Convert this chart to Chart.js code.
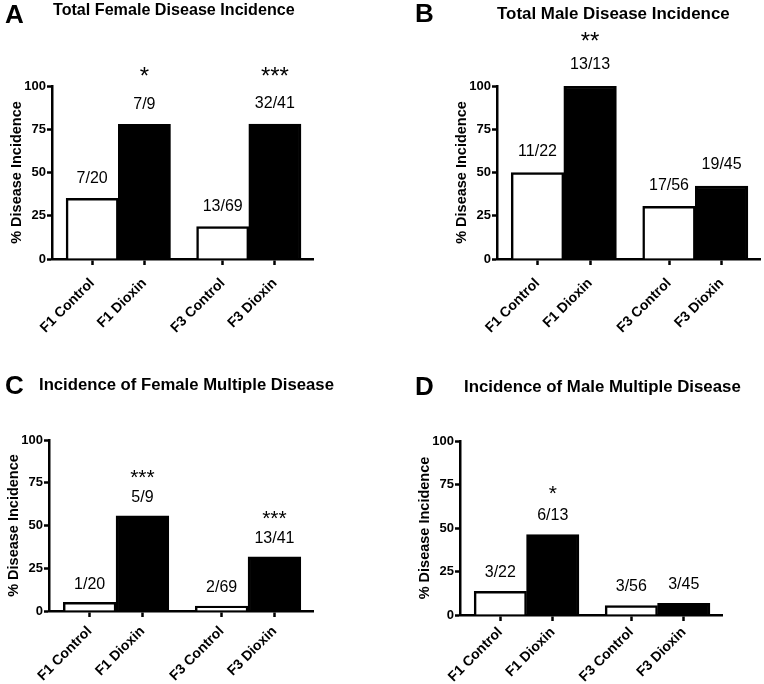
<!DOCTYPE html>
<html>
<head>
<meta charset="utf-8">
<script src="https://cdn.jsdelivr.net/npm/chart.js@4.4.0/dist/chart.umd.min.js"></script>
<style>
  body { margin: 0; background: #fff; }
  #wrap { position: relative; width: 764px; height: 684px; overflow: hidden; }
  #wrap canvas { position: absolute; }
</style>
</head>
<body>
<div id="wrap">
  <canvas id="panelA" width="382" height="342" style="left:0;top:0"></canvas>
  <canvas id="panelB" width="382" height="342" style="left:382px;top:0"></canvas>
  <canvas id="panelC" width="382" height="342" style="left:0;top:342px"></canvas>
  <canvas id="panelD" width="382" height="342" style="left:382px;top:342px"></canvas>
</div>
<script>
// groups shown on every panel
const categories = ["F1 Control", "F1 Dioxin", "F3 Control", "F3 Dioxin"];
const yTicks = [0, 25, 50, 75, 100];

// A - total female disease incidence (%)
const femaleTotal = [35, 77.8, 18.8, 78.0];
const femaleTotalCounts = ["7/20", "7/9", "13/69", "32/41"];
const femaleTotalStars = ["", "*", "", "***"];

// B - total male disease incidence (%)
const maleTotal = [50, 100, 30.4, 42.2];
const maleTotalCounts = ["11/22", "13/13", "17/56", "19/45"];
const maleTotalStars = ["", "**", "", ""];

// C - female multiple disease (%)
const femaleMultiple = [5, 55.6, 2.9, 31.7];
const femaleMultipleCounts = ["1/20", "5/9", "2/69", "13/41"];
const femaleMultipleStars = ["", "***", "", "***"];

// D - male multiple disease (%)
const maleMultiple = [13.6, 46.2, 5.4, 6.7];
const maleMultipleCounts = ["3/22", "6/13", "3/56", "3/45"];
const maleMultipleStars = ["", "*", "", ""];

const ARIAL = '"Liberation Sans", Arial, sans-serif';

// bar centres: F1 pair, half-bar gap, F3 pair
const xs = categories.map((c, i) => i + (i >= 2 ? 0.5 : 0));

const fitFont = (text, family, targetWidth) => {
  const c = document.createElement("canvas").getContext("2d");
  c.font = "bold 100px " + family;
  return 100 * targetWidth / c.measureText(text).width;
};

// fractions and stars over bars, plus panel letter and heading
const barText = {
  id: "barText",
  afterDatasetsDraw(chart, args, opts) {
    const ctx = chart.ctx;
    const meta = chart.getDatasetMeta(0);
    ctx.save();
    ctx.fillStyle = "#000";
    ctx.textAlign = "center";
    meta.data.forEach((bar, i) => {
      const ly = bar.y - opts.gap;
      ctx.font = "16px " + ARIAL;
      ctx.textBaseline = "middle";
      ctx.fillText(opts.counts[i], bar.x, ly);
      if (opts.stars[i]) {
        ctx.font = opts.starSize + "px " + ARIAL;
        ctx.textBaseline = "alphabetic";
        ctx.fillText(opts.stars[i], bar.x, ly - opts.starGap + 0.45 * opts.starSize);
      }
    });

    ctx.textAlign = "left";
    ctx.textBaseline = "middle";
    ctx.font = "bold 26px " + ARIAL;
    ctx.fillText(opts.letter, opts.letterX, opts.letterY);
    const size = fitFont(opts.title, ARIAL, opts.titleWidth);
    ctx.font = "bold " + size + "px " + ARIAL;
    ctx.fillText(opts.title, opts.titleX, opts.titleY);
    ctx.restore();
  }
};

const drawPanel = (canvasId, values, counts, stars, p) => {
  const canvas = document.getElementById(canvasId);
  const yWidth = 48;

  new Chart(canvas, {
    type: "bar",
    data: {
      datasets: [{
        data: values.map((v, i) => ({ x: xs[i], y: v })),
        backgroundColor: values.map((v, i) => (i % 2 ? "#000" : "#fff")),
        borderColor: "#000",
        borderWidth: 2.5,
        barPercentage: 1,
        categoryPercentage: 1,
      }],
    },
    options: {
      responsive: false,
      animation: false,
      events: [],
      layout: {
        padding: { left: p.l - yWidth, top: p.t, right: canvas.width - p.r, bottom: 0 },
      },
      plugins: {
        legend: { display: false },
        tooltip: { enabled: false },
        barText: {
          counts: counts, stars: stars, gap: p.gap, starGap: p.starGap, starSize: p.starSize,
          letter: p.letter, letterX: p.letterX, letterY: p.letterY,
          title: p.title, titleWidth: p.titleWidth, titleX: p.titleX, titleY: p.titleY,
        },
      },
      scales: {
        x: {
          type: "linear",
          bounds: "data",
          offset: false,
          min: -0.77,
          max: 4.23,
          afterBuildTicks: (s) => { s.ticks = xs.map((v) => ({ value: v })); },
          afterFit: (s) => { s.height = canvas.height - p.b; },
          ticks: {
            autoSkip: false,
            minRotation: 45,
            maxRotation: 45,
            padding: p.labelPad,
            color: "#000",
            font: { family: ARIAL, size: 14, weight: "bold" },
            callback: (v, i) => categories[i],
          },
          grid: { drawOnChartArea: false, offset: false, tickLength: 6, tickWidth: 2.5, tickColor: "#000" },
          border: { color: "#000", width: 2.5 },
        },
        y: {
          min: 0,
          max: 100,
          afterBuildTicks: (s) => { s.ticks = yTicks.map((v) => ({ value: v })); },
          afterFit: (s) => { s.width = yWidth; },
          ticks: {
            padding: 1,
            color: "#000",
            font: { family: ARIAL, size: 13, weight: "bold" },
          },
          grid: { drawOnChartArea: false, tickLength: 5, tickWidth: 2.5, tickColor: "#000" },
          border: { color: "#000", width: 2.5 },
          title: {
            display: true,
            text: "% Disease Incidence",
            color: "#000",
            padding: { top: 4.4, bottom: 0 },
            font: { family: ARIAL, size: 14.5, weight: "bold" },
          },
        },
      },
    },
    plugins: [barText],
  });
};

const drawGraphs = () => {
  drawPanel("panelA", femaleTotal, femaleTotalCounts, femaleTotalStars, {
    l: 52, r: 313, t: 86, b: 259, gap: 20, starGap: 31, starSize: 24, labelPad: 10,
    letter: "A", letterX: 5, letterY: 16,
    title: "Total Female Disease Incidence", titleWidth: 242, titleX: 53, titleY: 11,
  });
  drawPanel("panelB", maleTotal, maleTotalCounts, maleTotalStars, {
    l: 115, r: 378, t: 86, b: 259, gap: 21, starGap: 27, starSize: 24, labelPad: 10,
    letter: "B", letterX: 33, letterY: 15,
    title: "Total Male Disease Incidence", titleWidth: 233, titleX: 115, titleY: 14,
  });
  drawPanel("panelC", femaleMultiple, femaleMultipleCounts, femaleMultipleStars, {
    l: 49, r: 313, t: 98, b: 269, gap: 18, starGap: 23, starSize: 21, labelPad: 6,
    letter: "C", letterX: 5, letterY: 45,
    title: "Incidence of Female Multiple Disease", titleWidth: 295, titleX: 39, titleY: 43,
  });
  drawPanel("panelD", maleMultiple, maleMultipleCounts, maleMultipleStars, {
    l: 78, r: 340, t: 99, b: 273, gap: 19, starGap: 25, starSize: 21, labelPad: 3,
    letter: "D", letterX: 33, letterY: 46,
    title: "Incidence of Male Multiple Disease", titleWidth: 277, titleX: 82, titleY: 45,
  });
};

drawGraphs();
</script>
</body>
</html>
